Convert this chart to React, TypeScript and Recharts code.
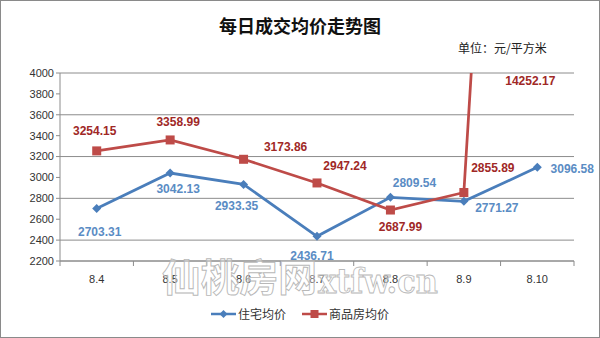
import { ComposedChart, Line, XAxis, YAxis, CartesianGrid, Legend, LabelList } from 'recharts'

const days = ['8.4', '8.5', '8.6', '8.7', '8.8', '8.9', '8.10']
const housing = [2703.31, 3042.13, 2933.35, 2436.71, 2809.54, 2771.27, 3096.58]
const commercial = [3254.15, 3358.99, 3173.86, 2947.24, 2687.99, 2855.89, 14252.17]
const yTicks = [2200, 2400, 2600, 2800, 3000, 3200, 3400, 3600, 3800, 4000]

const data = days.map((day, i) => ({ day, housing: housing[i], commercial: commercial[i] }))

// label nudges (dx, dy from the point to the label centre), Excel put them by hand
const housingLabelShift = [[3, 24], [8, 16], [-7, 22], [-5, 20], [24, -14], [33, 7], [35, 2]]
const commercialLabelShift = [[-2, -20], [8, -18], [42, -12], [28, -17], [10, 17], [29, -24], [-7, 0]]

const W = 600
const H = 338
const PLOT_TOP = 73
const PLOT_LEFT = 60
const PLOT_RIGHT = 574
const BAND = (PLOT_RIGHT - PLOT_LEFT) / days.length

const BLUE = '#4a7ebb'
const RED = '#be4b48'
const GRID = '#8c8c8c'

function Diamond(props: any) {
  const { cx, cy } = props
  if (cx == null || cy == null) return null
  const r = 4.5
  return <polygon points={`${cx},${cy - r} ${cx + r},${cy} ${cx},${cy + r} ${cx - r},${cy}`} fill={BLUE} />
}

function Square(props: any) {
  const { cx, cy } = props
  if (cx == null || cy == null) return null
  return <rect x={cx - 4.5} y={cy - 4.5} width={9} height={9} fill={RED} />
}

function makeLabel(shift: number[][], color: string) {
  return (props: any) => {
    const { x, y, value, index } = props
    const [dx, dy] = shift[index]
    const top = value > yTicks[yTicks.length - 1]
    const cy = top ? PLOT_TOP + 8 : y + dy
    return (
      <text x={x + dx} y={cy + 4} textAnchor="middle" fill={color}
        style={{ fontFamily: 'Liberation Sans', fontSize: 12, fontWeight: 'bold' }}>
        {value.toFixed(2)}
      </text>
    )
  }
}

function XTick(props: any) {
  const { x, y, payload, index } = props
  const last = index === days.length - 1
  return (
    <g>
      <line x1={x - BAND / 2} x2={x - BAND / 2} y1={y - 8} y2={y - 3} stroke={GRID} />
      {last && <line x1={x + BAND / 2} x2={x + BAND / 2} y1={y - 8} y2={y - 3} stroke={GRID} />}
      <text x={x} y={y + 14} textAnchor="middle" fill="#333"
        style={{ fontFamily: 'Liberation Sans', fontSize: 11 }}>{payload.value}</text>
    </g>
  )
}

function LegendContent() {
  const items = [
    { name: '住宅均价', color: BLUE, square: false },
    { name: '商品房均价', color: RED, square: true },
  ]
  return (
    <div style={{ display: 'flex', justifyContent: 'center', gap: 16, fontFamily: 'Noto Sans CJK SC', fontSize: 12, color: '#333' }}>
      {items.map(it => (
        <div key={it.name} style={{ display: 'flex', alignItems: 'center', gap: 2 }}>
          <svg width={25} height={12}>
            <line x1={0} x2={25} y1={6} y2={6} stroke={it.color} strokeWidth={2.5} />
            {it.square
              ? <rect x={8.5} y={2} width={8} height={8} fill={it.color} />
              : <polygon points="12.5,2 16.5,6 12.5,10 8.5,6" fill={it.color} />}
          </svg>
          <span>{it.name}</span>
        </div>
      ))}
    </div>
  )
}

export default function App() {
  return (
    <div style={{ position: 'absolute', left: 0, top: 0, width: W, height: H, background: '#fff' }}>
      <div style={{ position: 'absolute', left: 0, top: 12, width: W, textAlign: 'center', fontFamily: 'Noto Sans CJK SC', fontWeight: 'bold', fontSize: 18, color: '#111' }}>
        每日成交均价走势图
      </div>
      <div style={{ position: 'absolute', left: 458, top: 39, fontFamily: 'Noto Sans CJK SC', fontSize: 12, color: '#222' }}>
        单位：元/平方米
      </div>
      <ComposedChart width={W} height={H} data={data} margin={{ top: PLOT_TOP, right: W - PLOT_RIGHT, left: 8, bottom: 47 }}>
        <CartesianGrid vertical={false} stroke={GRID} strokeWidth={1} />
        <XAxis dataKey="day" scale="band" stroke={GRID} tickLine={false} height={30} tick={<XTick />} interval={0} />
        <YAxis domain={[2200, 4000]} ticks={yTicks} allowDataOverflow width={PLOT_LEFT - 8} stroke={GRID}
          tickSize={4} tick={{ fill: '#333', fontSize: 11, fontFamily: 'Liberation Sans' }} />
        <Line dataKey="housing" name="住宅均价" stroke={BLUE} strokeWidth={2.75} dot={<Diamond />} isAnimationActive={false}>
          <LabelList dataKey="housing" content={makeLabel(housingLabelShift, '#5a8cc4')} />
        </Line>
        <Line dataKey="commercial" name="商品房均价" stroke={RED} strokeWidth={2.75} dot={<Square />} isAnimationActive={false}>
          <LabelList dataKey="commercial" content={makeLabel(commercialLabelShift, '#a02826')} />
        </Line>
        <Legend layout="horizontal" verticalAlign="middle" align="center" content={<LegendContent />}
          wrapperStyle={{ top: 305, left: 0, width: W }} />
      </ComposedChart>
      <svg width={W} height={H} style={{ position: 'absolute', left: 0, top: 0, pointerEvents: 'none' }}>
        <text x={162} y={291} textLength={155} lengthAdjust="spacingAndGlyphs" fill="#fff" fillOpacity={0.35} stroke="#b8b8b8" strokeWidth={0.9}
          style={{ fontFamily: 'Noto Sans CJK SC', fontSize: 38, fontWeight: 'bold' }}>仙桃房网</text>
        <text x={318} y={293} textLength={120} lengthAdjust="spacingAndGlyphs" fill="#fff" fillOpacity={0.35} stroke="#b8b8b8" strokeWidth={0.9}
          style={{ fontFamily: 'DejaVu Serif', fontSize: 34, fontWeight: 'bold' }}>xtfw.cn</text>
      </svg>
      <div style={{ position: 'absolute', left: 0, top: 0, width: W, height: H, boxSizing: 'border-box', border: '1px solid #8a8a8a', pointerEvents: 'none' }} />
    </div>
  )
}
